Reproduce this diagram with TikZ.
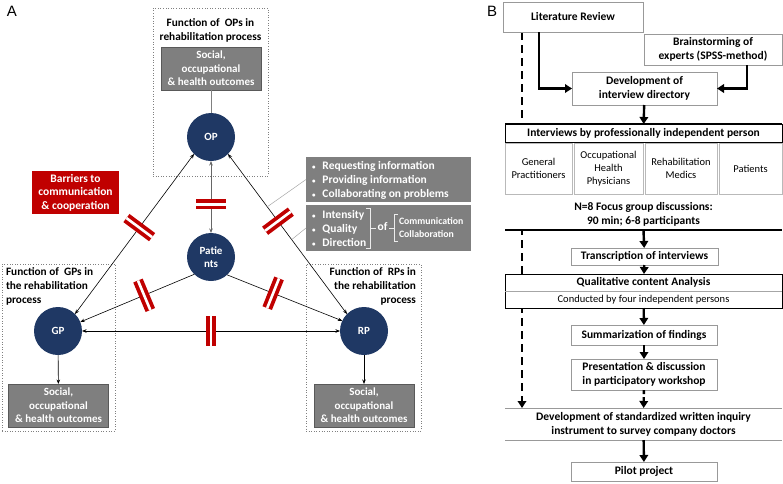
\documentclass[tikz,border=0pt]{standalone}
\usepackage{fontspec}
\setmainfont{Carlito}
\newfontfamily\arialfont{Liberation Sans}
\usetikzlibrary{arrows.meta,calc,backgrounds}
\definecolor{navy}{HTML}{1F3864}
\definecolor{rd}{HTML}{C00000}
\definecolor{gbox}{HTML}{7F7F7F}
\definecolor{gedge}{HTML}{595959}
\begin{document}
\begin{tikzpicture}[x=1pt,y=-1pt,
 every node/.style={inner sep=0pt,outer sep=0pt},
 circ/.style={circle,fill=navy,minimum size=48pt,text=white,font=\fontsize{11}{13}\selectfont\bfseries,align=center},
 outbox/.style={fill=gbox,draw=gedge,line width=0.6pt,text=white,font=\fontsize{11}{13.5}\selectfont\bfseries,align=center,minimum width=100pt,minimum height=43pt},
 dotbox/.style={draw=gray,dotted,line width=0.6pt},
 ttl/.style={font=\fontsize{11.3}{14}\selectfont\bfseries},
 tip/.style={-{Stealth[length=4.5pt,width=3.5pt]}},
 conn/.style={line width=0.6pt,tip},
 conn2/.style={line width=0.6pt,{Stealth[length=4.5pt,width=3.5pt]}-{Stealth[length=4.5pt,width=3.5pt]}},
 bar/.style={draw=rd,line width=3.8pt,double=white,double distance=2.6pt},
 leader/.style={draw=gray!70,line width=0.5pt},
 infotext/.style={text=white,font=\fontsize{11.5}{14}\selectfont\bfseries,align=left},
 bbox/.style={draw=gray!80,line width=0.8pt,fill=white,font=\fontsize{11.5}{14}\selectfont\bfseries,align=center},
 smbox/.style={draw=gray!55,line width=0.8pt,fill=white,font=\fontsize{10.5}{13}\selectfont,align=center,minimum height=51pt},
 barr/.style={draw=black,line width=2.4pt,-{Triangle[length=7pt,width=8.5pt]}},
 bold/.style={font=\fontsize{11.5}{14}\selectfont\bfseries,align=center}
]
\useasboundingbox (0,0) rectangle (783,483);

% ---------------- Panel A ----------------
\node[font=\arialfont\fontsize{15}{15}\selectfont] (la) at (12,11) {A};

\node[dotbox,minimum width=115pt,minimum height=168pt] (opfr) at (210.5,92) {};
\node[dotbox,minimum width=113pt,minimum height=167pt] (gpfr) at (58.5,347.5) {};
\node[dotbox,minimum width=115pt,minimum height=167pt] (rpfr) at (363.5,347.5) {};

\node[ttl,align=center] (opt) at (210.5,30) {Function of~ OPs in\\rehabilitation process};
\node[ttl,align=left,anchor=west] (gpt) at (6,286) {Function of~ GPs in\\the rehabilitation\\process};
\node[ttl,align=right,anchor=east] (rpt) at (416,286) {Function of~ RPs in\\the rehabilitation\\process};

\node[outbox] (opout) at (211,68.5) {Social,\\occupational\\\& health outcomes};
\node[outbox] (gpout) at (58.5,405.5) {Social,\\occupational\\\& health outcomes};
\node[outbox] (rpout) at (364,405.5) {Social,\\occupational\\\& health outcomes};

\node[fill=rd,minimum width=87pt,minimum height=43pt,text=white,font=\fontsize{11.5}{13.5}\selectfont\bfseries,align=center] (barrier) at (75.5,192.5) {Barriers to\\communication\\\& cooperation};

\node[circ] (OP) at (211,137) {OP};
\node[circ] (Pat) at (211,257) {Patie\\nts};
\node[circ] (GP) at (58,331) {GP};
\node[circ] (RP) at (364,331) {RP};

\node[fill=gbox,minimum width=165pt,minimum height=45pt] (info1) at (388.5,179.5) {};
\node[infotext,anchor=west] (info1t) at (312,180) {{\fontsize{7}{7}\selectfont\textbullet}\hspace{7pt}Requesting information\\{\fontsize{7}{7}\selectfont\textbullet}\hspace{7pt}Providing information\\{\fontsize{7}{7}\selectfont\textbullet}\hspace{7pt}Collaborating on problems};
\node[fill=gbox,minimum width=165pt,minimum height=46pt] (info2) at (388.5,228) {};
\node[infotext,anchor=west] (info2t) at (312,228) {{\fontsize{7}{7}\selectfont\textbullet}\hspace{7pt}Intensity\\{\fontsize{7}{7}\selectfont\textbullet}\hspace{7pt}Quality\\{\fontsize{7}{7}\selectfont\textbullet}\hspace{7pt}Direction};
\node[infotext] (ofw) at (382.5,227) {of};
\node[infotext,anchor=west,font=\fontsize{9.8}{12.5}\selectfont\bfseries] (cc) at (399,227.5) {Communication\\Collaboration};
\draw[white!85!gray,line width=0.6pt] (366,208) -- (370,208) -- (370,248) -- (366,248);
\draw[white!85!gray,line width=0.6pt] (370,228) -- (376,228);
\draw[white!85!gray,line width=0.6pt] (389,228) -- (394,228);
\draw[white!85!gray,line width=0.6pt] (398,214) -- (394,214) -- (394,241) -- (398,241);

% connectors
\draw[gray,line width=0.8pt] (opout) -- (OP);
\draw[conn2,draw=gray!80!black] (OP) -- (Pat);
\draw[conn2] (OP.225) -- (GP.45);
\draw[conn2] (OP.315) -- (RP.135);
\draw[conn] (Pat.226) -- (GP.22);
\draw[conn] (Pat.312) -- (RP.155);
\draw[conn2] (GP) -- (RP);
\draw[conn] (GP) -- (gpout);
\draw[conn] (RP) -- (rpout);

\draw[leader] (info1.west) -- ($(OP.315)!0.33!(RP.135)$);
\draw[leader] (info2.west) -- ($(OP.315)!0.535!(RP.135)$);

% barrier marks
\coordinate (m1) at ($(OP.225)!0.46!(GP.45)$);
\coordinate (m2) at ($(OP.315)!0.42!(RP.135)$);
\coordinate (m3) at ($(OP.south)!0.6!(Pat.north)$);
\coordinate (m4) at ($(Pat.226)!0.44!(GP.22)$);
\coordinate (m5) at ($(Pat.312)!0.4!(RP.155)$);
\coordinate (m6) at ($(GP.east)!0.5!(RP.west)$);
\draw[bar] ($(m1)!16pt!90:(GP.45)$) -- ($(m1)!16pt!-90:(GP.45)$);
\draw[bar] ($(m2)!16pt!90:(RP.135)$) -- ($(m2)!16pt!-90:(RP.135)$);
\draw[bar] ($(m3)!15pt!90:(Pat.north)$) -- ($(m3)!15pt!-90:(Pat.north)$);
\draw[bar] ($(m4)!16pt!90:(GP.22)$) -- ($(m4)!16pt!-90:(GP.22)$);
\draw[bar] ($(m5)!16pt!90:(RP.155)$) -- ($(m5)!16pt!-90:(RP.155)$);
\draw[bar] ($(m6)!15pt!90:(RP.west)$) -- ($(m6)!15pt!-90:(RP.west)$);

% ---------------- Panel B ----------------
\node[font=\arialfont\fontsize{15}{15}\selectfont] (lb) at (492,11) {B};

\node[bbox,minimum width=140pt,minimum height=30pt] (lit) at (573,17) {Literature Review};
\node[bbox,minimum width=138pt,minimum height=31pt] (brain) at (713,49.5) {Brainstorming of\\experts (SPSS-method)};
\node[bbox,minimum width=145pt,minimum height=33pt] (devint) at (644.5,88.5) {Development of\\interview directory};
\coordinate (l1) at (539,32);
\coordinate (b1) at (747,65);
\draw[barr] (l1) |- (devint.west);
\draw[barr] (b1) |- (devint.east);

\node[fill=white,minimum width=277pt,minimum height=88pt] (grp) at (643.5,186) {};
\node[draw=black,line width=0.6pt,fill=white,minimum width=277pt,minimum height=18pt,font=\fontsize{11.5}{14}\selectfont\bfseries] (intv) at (643.5,133) {Interviews by professionally independent person};
\draw[line width=1.8pt] (intv.north west) -- (intv.north east);
\draw[barr] (devint) -- (intv);

\node[smbox,minimum width=67pt] (g2) at (538.5,168.5) {General\\Practitioners};
\node[smbox,minimum width=69pt] (o2) at (608.5,168.5) {Occupational\\Health\\Physicians};
\node[smbox,minimum width=72pt] (r2) at (681,168.5) {Rehabilitation\\Medics};
\node[smbox,minimum width=63pt] (p2) at (750.5,168.5) {Patients};

\node[bold,font=\fontsize{11.5}{13.5}\selectfont\bfseries] (focus) at (643.5,214.5) {N=8 Focus group discussions:\\90 min; 6-8 participants};
\coordinate (fl) at (505,230);
\coordinate (fr) at (782,230);
\coordinate (fm) at (643.5,230);
\draw[line width=1.8pt] (fl) -- (fr);

\node[bbox,minimum width=147pt,minimum height=17pt] (trans) at (644.5,256.5) {Transcription of interviews};
\draw[barr] (fm) -- (trans);

\node[draw=black,line width=1pt,fill=white,minimum width=277pt,minimum height=34pt] (qual) at (643.5,291) {};
\draw[gray!70,line width=0.5pt] (qual.west) -- (qual.east);
\node[bold] (qt) at (643.5,282.5) {Qualitative content Analysis};
\node[font=\fontsize{10.5}{13}\selectfont] (qc) at (643.5,299.5) {Conducted by four independent persons};
\draw[barr] (trans) -- (qual);

\node[bbox,minimum width=146pt,minimum height=20pt] (summ) at (644,335) {Summarization of findings};
\draw[barr] (qual) -- (summ);
\node[bbox,minimum width=146pt,minimum height=31pt] (pres) at (644,374.5) {Presentation \& discussion\\in participatory workshop};
\draw[barr] (summ) -- (pres);

\node[bold,fill=white,minimum width=277pt,minimum height=32pt] (dev2) at (643.5,424) {Development of standardized written inquiry\\instrument to survey company doctors};
\draw[gray!80,line width=0.8pt] (dev2.north west) -- (dev2.north east);
\draw[gray!80,line width=0.8pt] (dev2.south west) -- (dev2.south east);
\draw[barr,dash pattern=on 4pt off 3pt] (pres) -- (dev2);

\node[bbox,minimum width=146pt,minimum height=19pt] (pilot) at (644,471.5) {Pilot project};
\draw[barr] (dev2) -- (pilot);

\coordinate (dtop) at (522,32);
\begin{scope}[on background layer]
\draw[barr,line width=2.8pt,dash pattern=on 8pt off 5pt] (dtop) -- (dtop |- dev2.north);
\end{scope}
\end{tikzpicture}
\end{document}
